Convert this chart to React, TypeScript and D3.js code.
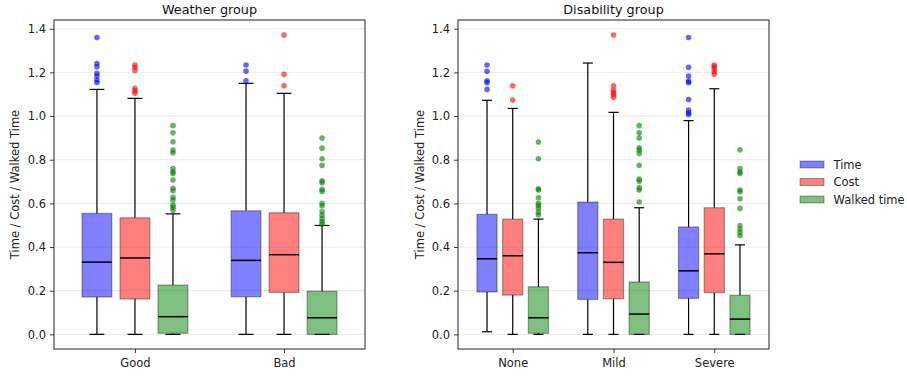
import React, { useEffect, useRef } from "react";
import * as d3 from "d3";

// categories
const weatherGroups = ["Good", "Bad"];
const disabilityGroups = ["None", "Mild", "Severe"];
const seriesNames = ["Time", "Cost", "Walked time"];
const yTicks = [0, 0.2, 0.4, 0.6, 0.8, 1.0, 1.2, 1.4];

// box stats per group: [whiskerLow, q1, median, q3, whiskerHigh]
const weatherTimeStats = [
  [0, 0.171, 0.331, 0.554, 1.122],
  [0, 0.172, 0.339, 0.566, 1.15],
];
const weatherCostStats = [
  [0, 0.162, 0.35, 0.534, 1.081],
  [0, 0.192, 0.365, 0.557, 1.104],
];
const weatherWalkStats = [
  [0, 0.005, 0.081, 0.226, 0.552],
  [0, 0, 0.076, 0.198, 0.499],
];
const weatherTimeOutliers = [
  [1.36, 1.241, 1.226, 1.196, 1.183, 1.165, 1.154],
  [1.234, 1.206, 1.162],
];
const weatherCostOutliers = [
  [1.234, 1.223, 1.208, 1.127, 1.116, 1.104],
  [1.371, 1.191, 1.139],
];
const weatherWalkOutliers = [
  [0.956, 0.923, 0.882, 0.844, 0.832, 0.76, 0.745, 0.737, 0.707, 0.669, 0.658, 0.628, 0.615, 0.592, 0.582, 0.569],
  [0.899, 0.853, 0.804, 0.774, 0.704, 0.695, 0.664, 0.655, 0.6, 0.588, 0.562, 0.546, 0.531, 0.516, 0.506],
];

const disabilityTimeStats = [
  [0.012, 0.194, 0.346, 0.55, 1.072],
  [0, 0.16, 0.374, 0.606, 1.243],
  [0, 0.165, 0.291, 0.492, 0.979],
];
const disabilityCostStats = [
  [0, 0.18, 0.36, 0.528, 1.035],
  [0, 0.163, 0.33, 0.528, 1.017],
  [0, 0.191, 0.369, 0.58, 1.125],
];
const disabilityWalkStats = [
  [0, 0.005, 0.076, 0.218, 0.528],
  [0, 0, 0.093, 0.24, 0.58],
  [0, 0, 0.07, 0.179, 0.41],
];
const disabilityTimeOutliers = [
  [1.234, 1.205, 1.162, 1.153, 1.122],
  [],
  [1.36, 1.223, 1.183, 1.16, 1.153, 1.076, 1.028, 1.015, 1.007],
];
const disabilityCostOutliers = [
  [1.139, 1.073],
  [1.371, 1.139, 1.119, 1.108, 1.099, 1.086],
  [1.234, 1.226, 1.215, 1.203, 1.191],
];
const disabilityWalkOutliers = [
  [0.881, 0.804, 0.667, 0.661, 0.626, 0.6, 0.59, 0.578, 0.56, 0.548],
  [0.956, 0.923, 0.899, 0.855, 0.844, 0.829, 0.775, 0.711, 0.701, 0.672, 0.661, 0.606],
  [0.846, 0.76, 0.745, 0.737, 0.661, 0.653, 0.621, 0.577, 0.499, 0.483, 0.468, 0.453],
];

const fillColors = ["rgba(0,0,255,0.5)", "rgba(255,0,0,0.5)", "rgba(0,128,0,0.5)"];
const dotColors = ["rgba(0,0,255,0.6)", "rgba(255,0,0,0.6)", "rgba(0,128,0,0.6)"];

const W = 907;
const H = 377;
const FONT = "DejaVu Sans, sans-serif";
const FS = 11.5;

type Panel = {
  title: string;
  groups: string[];
  stats: number[][][];
  outliers: number[][][];
  left: number;
  right: number;
  ylabelX: number;
};

const panels: Panel[] = [
  {
    title: "Weather group",
    groups: weatherGroups,
    stats: [weatherTimeStats, weatherCostStats, weatherWalkStats],
    outliers: [weatherTimeOutliers, weatherCostOutliers, weatherWalkOutliers],
    left: 54,
    right: 365,
    ylabelX: 15,
  },
  {
    title: "Disability group",
    groups: disabilityGroups,
    stats: [disabilityTimeStats, disabilityCostStats, disabilityWalkStats],
    outliers: [disabilityTimeOutliers, disabilityCostOutliers, disabilityWalkOutliers],
    left: 458,
    right: 769,
    ylabelX: 419.5,
  },
];

const App: React.FC = () => {
  const svgRef = useRef<SVGSVGElement>(null);

  useEffect(() => {
    if (!svgRef.current) return;
    const svg = d3.select(svgRef.current);
    svg.selectAll("*").remove();

    const top = 20;
    const bottom = 349;
    const y = d3.scaleLinear().domain([-0.067, 1.44]).range([bottom, top]);
    const boxW = 0.2;
    const offset = 0.255;

    panels.forEach((p) => {
      const n = p.groups.length;
      const x = d3.scaleLinear().domain([-0.543, n - 1 + 0.543]).range([p.left, p.right]);
      const g = svg.append("g");

      // grid
      g.selectAll("line.grid")
        .data(yTicks)
        .enter()
        .append("line")
        .attr("x1", p.left)
        .attr("x2", p.right)
        .attr("y1", (d) => y(d))
        .attr("y2", (d) => y(d))
        .attr("stroke", "#e6e6e6")
        .attr("stroke-width", 0.9);

      p.stats.forEach((series, si) => {
        series.forEach((s, gi) => {
          const [lo, q1, med, q3, hi] = s;
          const cx = gi + (si - 1) * offset;
          const px = x(cx);
          const bw = x(cx + boxW / 2) - x(cx - boxW / 2);
          const capW = bw * 0.5;
          // whiskers
          g.append("line").attr("x1", px).attr("x2", px).attr("y1", y(q3)).attr("y2", y(hi))
            .attr("stroke", "#000").attr("stroke-width", 1.2);
          g.append("line").attr("x1", px).attr("x2", px).attr("y1", y(q1)).attr("y2", y(lo))
            .attr("stroke", "#000").attr("stroke-width", 1.2);
          [lo, hi].forEach((v) => {
            g.append("line").attr("x1", px - capW / 2).attr("x2", px + capW / 2)
              .attr("y1", y(v)).attr("y2", y(v)).attr("stroke", "#000").attr("stroke-width", 1.2);
          });
          // box
          g.append("rect")
            .attr("x", px - bw / 2)
            .attr("y", y(q3))
            .attr("width", bw)
            .attr("height", y(q1) - y(q3))
            .attr("fill", fillColors[si])
            .attr("stroke", "rgba(0,0,0,0.35)")
            .attr("stroke-width", 1.2);
          // median
          g.append("line").attr("x1", px - bw / 2).attr("x2", px + bw / 2)
            .attr("y1", y(med)).attr("y2", y(med)).attr("stroke", "#000").attr("stroke-width", 1.5);
          // outliers
          g.selectAll(null)
            .data(p.outliers[si][gi])
            .enter()
            .append("circle")
            .attr("cx", px)
            .attr("cy", (d) => y(d))
            .attr("r", 2.8)
            .attr("fill", dotColors[si]);
        });
      });

      // frame
      g.append("rect")
        .attr("x", p.left)
        .attr("y", top)
        .attr("width", p.right - p.left)
        .attr("height", bottom - top)
        .attr("fill", "none")
        .attr("stroke", "#222")
        .attr("stroke-width", 1);

      // axes
      const yAxis = g.append("g")
        .attr("transform", `translate(${p.left},0)`)
        .call(d3.axisLeft(y).tickValues(yTicks).tickFormat(d3.format(".1f")).tickSize(4).tickPadding(4));
      const xAxis = g.append("g")
        .attr("transform", `translate(0,${bottom})`)
        .call(
          d3.axisBottom(x)
            .tickValues(d3.range(n))
            .tickFormat((d) => p.groups[d as number])
            .tickSize(4)
            .tickPadding(6)
        );
      [yAxis, xAxis].forEach((a) => {
        a.select(".domain").remove();
        a.selectAll("line").attr("stroke", "#222").attr("stroke-width", 0.9);
        a.selectAll("text").attr("font-family", FONT).attr("font-size", FS).attr("fill", "#222");
      });

      g.append("text")
        .attr("x", (p.left + p.right) / 2)
        .attr("y", 13.5)
        .attr("text-anchor", "middle")
        .attr("font-family", FONT)
        .attr("font-size", 12.8)
        .attr("fill", "#111")
        .text(p.title);

      g.append("text")
        .attr("transform", `translate(${p.ylabelX},${(top + bottom) / 2}) rotate(-90)`)
        .attr("text-anchor", "middle")
        .attr("dominant-baseline", "central")
        .attr("font-family", FONT)
        .attr("font-size", FS)
        .attr("fill", "#222")
        .text("Time / Cost / Walked Time");
    });

    // legend
    const lg = svg.append("g").attr("transform", "translate(800,164.5)");
    seriesNames.forEach((name, i) => {
      lg.append("rect")
        .attr("x", 0)
        .attr("y", i * 17.5 - 3.5)
        .attr("width", 24)
        .attr("height", 7)
        .attr("fill", fillColors[i])
        .attr("stroke", "rgba(0,0,0,0.35)")
        .attr("stroke-width", 1);
      lg.append("text")
        .attr("x", 33.5)
        .attr("y", i * 17.5)
        .attr("dominant-baseline", "central")
        .attr("font-family", FONT)
        .attr("font-size", FS)
        .attr("fill", "#222")
        .text(name);
    });
  }, []);

  return (
    <svg
      ref={svgRef}
      width={W}
      height={H}
      style={{ position: "absolute", left: 0, top: 0, background: "#fff" }}
    />
  );
};

export default App;
